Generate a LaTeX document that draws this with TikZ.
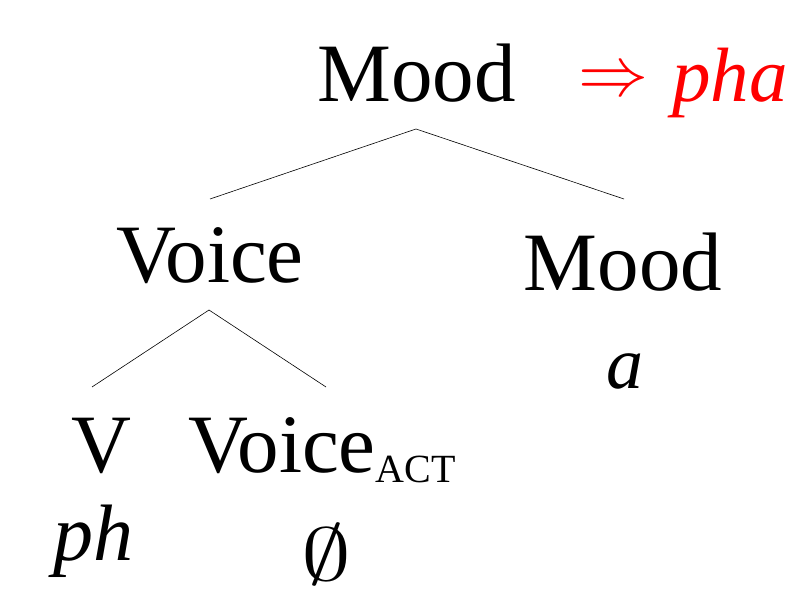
\documentclass[tikz,border=0pt]{standalone}
\usepackage{fontspec}
\setmainfont{Liberation Serif}
\begin{document}
\begin{tikzpicture}[x=1pt,y=1pt,
  lab/.style={inner sep=0pt,anchor=base,font=\fontsize{83}{90}\selectfont},
  ital/.style={inner sep=0pt,anchor=base,font=\fontsize{83}{90}\selectfont\itshape},
  branch/.style={line width=0.6pt}]
\useasboundingbox (0,0) rectangle (792,592);
\node[lab] (root) at (416.5,490) {Mood};
\node[inner sep=0pt,anchor=center,text=red] (arrow) at (613,509) {\scalebox{7}{$\Rightarrow$}};
\node[ital,anchor=base west,text=red,font=\fontsize{77}{90}\selectfont\itshape] (pha) at (672,490) {pha};
\node[lab] (voice) at (210,309) {Voice};
\node[lab] (mood) at (623,301) {Mood};
\node[ital,font=\fontsize{74}{90}\selectfont\itshape] (a) at (625,204) {a};
\node[lab] (v) at (101,120) {V};
\node[lab,anchor=base west] (voiceact) at (188,120) {Voice\raisebox{-10pt}{\fontsize{40}{42}\selectfont ACT}};
\node[ital,anchor=base west,font=\fontsize{80}{90}\selectfont\itshape] (ph) at (53,32) {ph};
\node[inner sep=0pt,anchor=center] (empty) at (326,38) {\scalebox{10}[7.5]{$\emptyset$}};
\coordinate (rootb) at (416,463);
\coordinate (voicet) at (210,393);
\coordinate (moodt) at (624,393);
\coordinate (voiceb) at (209,282);
\coordinate (vt) at (92,205);
\coordinate (actt) at (326,205);
\draw[branch] (rootb) -- (voicet);
\draw[branch] (rootb) -- (moodt);
\draw[branch] (voiceb) -- (vt);
\draw[branch] (voiceb) -- (actt);
\end{tikzpicture}
\end{document}
